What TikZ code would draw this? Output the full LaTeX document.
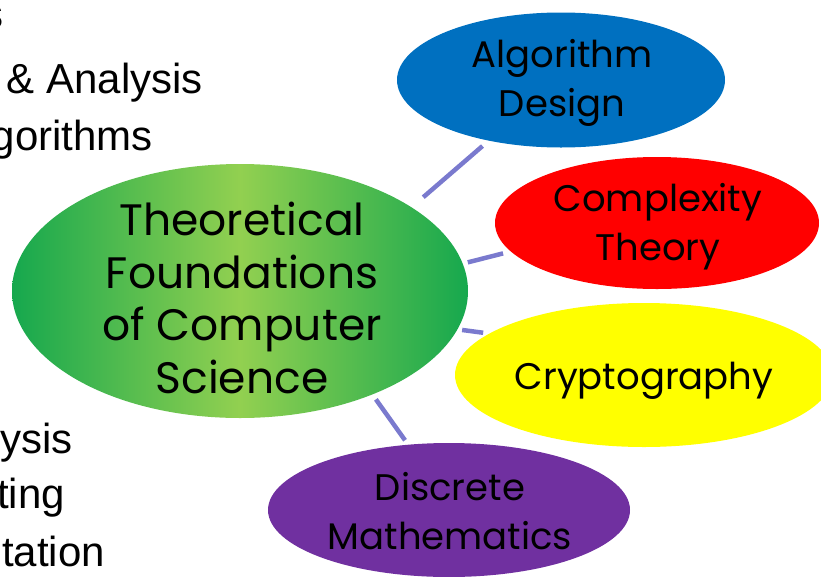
\documentclass[tikz,border=0pt]{standalone}
\usepackage{fontspec}
\setmainfont{Liberation Sans}
\newfontfamily\bubblefont{Poppins}
\usetikzlibrary{shapes.geometric}
\definecolor{gEdge}{RGB}{22,168,78}
\definecolor{gMid}{RGB}{146,208,80}
\definecolor{bBlue}{RGB}{0,112,192}
\definecolor{bRed}{RGB}{255,0,0}
\definecolor{bYellow}{RGB}{255,255,0}
\definecolor{bPurple}{RGB}{112,48,160}
\definecolor{connColor}{RGB}{122,122,206}
\begin{document}
\begin{tikzpicture}[x=1pt,y=-1pt,
  bubble/.style={ellipse, draw=none, inner sep=0pt, outer sep=0pt},
  bubbletext/.style={align=center, inner sep=0pt, text=black},
  smalltext/.style={bubbletext, font=\bubblefont\fontsize{37}{49}\selectfont},
  bigtext/.style={bubbletext, font=\bubblefont\fontsize{44}{52.7}\selectfont},
  sidetext/.style={anchor=base east, inner sep=0pt, font=\fontsize{42}{50}\selectfont},
  link/.style={draw=connColor, line width=4.5pt}]
\useasboundingbox (0,0) rectangle (821,576);
\clip (0,0) rectangle (821,576);

% side text (cut off at left edge, as in the reference)
\node[sidetext] (s1) at (4,28) {s};
\node[sidetext] (s2) at (203,93) {\& Analysis};
\node[sidetext] (s3) at (153,150) {gorithms};
\node[sidetext] (s4) at (73,453) {ysis};
\node[sidetext] (s5) at (65,508) {ting};
\node[sidetext] (s6) at (105,566) {tation};

% bubbles
\node[bubble, left color=gEdge, right color=gEdge, middle color=gMid,
      minimum width=456pt, minimum height=254pt] (found) at (240,291) {};
\node[bubble, fill=bBlue, minimum width=328pt, minimum height=135pt] (algo) at (561,80) {};
\node[bubble, fill=bRed, minimum width=324pt, minimum height=132pt] (cplx) at (657,223) {};
\node[bubble, fill=bYellow, minimum width=378pt, minimum height=144pt] (crypt) at (644,375) {};
\node[bubble, fill=bPurple, minimum width=362pt, minimum height=134pt] (disc) at (449,510) {};

% bubble texts
\node[bigtext] (foundT) at (242,298) {Theoretical\\Foundations\\of Computer\\Science};
\node[smalltext] (algoT) at (562,83) {Algorithm\\Design};
\node[smalltext] (cplxT) at (658,226.5) {Complexity\\Theory};
\node[smalltext] (cryptT) at (644,380.5) {Cryptography};
\node[smalltext] (discT) at (450,511.5) {Discrete\\Mathematics};

% connectors
\draw[link, shorten <=15.5pt, shorten >=8.3pt] (found.26.6) -- (algo.220.3);
\draw[link, shorten <=5.3pt, shorten >=8pt] (found.7.7) -- (cplx.191);
\draw[link, shorten <=4.8pt, shorten >=6.3pt] (found.350.4) -- (crypt.165.4);
\draw[link, shorten <=6.1pt, shorten >=5.5pt] (found.322.9) -- (disc.122.1);
\end{tikzpicture}
\end{document}
